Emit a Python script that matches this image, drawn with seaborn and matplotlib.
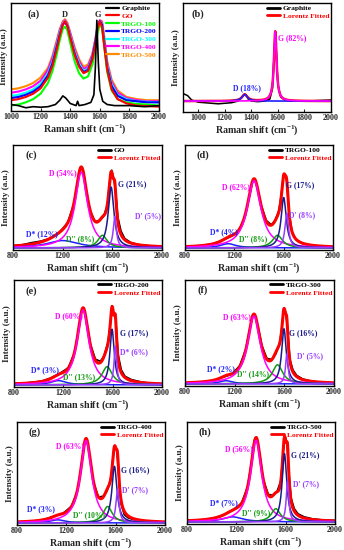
import numpy as np
import matplotlib.pyplot as plt
from matplotlib.lines import Line2D
import seaborn as sns

sns.set_style('ticks')
plt.rcParams['font.family'] = ['Liberation Serif', 'DejaVu Serif']
plt.rcParams['font.weight'] = 'bold'
plt.rcParams['axes.labelweight'] = 'bold'
plt.rcParams['mathtext.fontset'] = 'custom'
plt.rcParams['mathtext.rm'] = 'Liberation Serif:bold'
plt.rcParams['mathtext.default'] = 'rm'

# ---------------- panel (a): raw spectra ----------------
shift_a = [1000, 1050, 1100, 1150, 1200, 1250, 1280, 1310, 1330, 1350, 1365, 1380, 1400, 1430, 1460,
           1490, 1520, 1550, 1570, 1585, 1600, 1615, 1630, 1650, 1680, 1720, 1780, 1850, 1920, 2000]
go_a = [0.10, 0.11, 0.13, 0.16, 0.21, 0.31, 0.42, 0.58, 0.70, 0.80, 0.83, 0.79, 0.68, 0.52, 0.41,
        0.35, 0.37, 0.48, 0.62, 0.76, 0.83, 0.78, 0.60, 0.38, 0.20, 0.11, 0.07, 0.05, 0.045, 0.04]
trgo100_a = [0.05, 0.06, 0.08, 0.11, 0.16, 0.26, 0.37, 0.53, 0.66, 0.76, 0.78, 0.75, 0.63, 0.46, 0.35,
             0.30, 0.32, 0.43, 0.58, 0.72, 0.80, 0.77, 0.60, 0.36, 0.19, 0.11, 0.08, 0.065, 0.06, 0.05]
trgo200_a = [0.12, 0.13, 0.15, 0.18, 0.23, 0.33, 0.44, 0.60, 0.71, 0.80, 0.82, 0.79, 0.68, 0.53, 0.42,
             0.36, 0.38, 0.49, 0.64, 0.77, 0.83, 0.80, 0.63, 0.40, 0.23, 0.14, 0.10, 0.09, 0.08, 0.08]
trgo300_a = [0.14, 0.15, 0.17, 0.20, 0.25, 0.35, 0.46, 0.62, 0.73, 0.81, 0.83, 0.80, 0.70, 0.55, 0.44,
             0.37, 0.39, 0.50, 0.65, 0.78, 0.83, 0.81, 0.65, 0.42, 0.25, 0.15, 0.11, 0.09, 0.085, 0.08]
trgo400_a = [0.17, 0.18, 0.20, 0.23, 0.28, 0.38, 0.49, 0.64, 0.75, 0.82, 0.84, 0.81, 0.72, 0.57, 0.46,
             0.39, 0.41, 0.52, 0.66, 0.79, 0.84, 0.82, 0.67, 0.44, 0.27, 0.17, 0.12, 0.10, 0.09, 0.09]
trgo500_a = [0.20, 0.21, 0.23, 0.26, 0.31, 0.40, 0.51, 0.66, 0.76, 0.83, 0.85, 0.82, 0.73, 0.59, 0.48,
             0.41, 0.43, 0.53, 0.67, 0.79, 0.84, 0.83, 0.69, 0.46, 0.29, 0.19, 0.13, 0.11, 0.10, 0.10]
shift_graphite = [1000, 1050, 1100, 1150, 1200, 1250, 1300, 1330, 1350, 1370, 1400, 1440, 1450, 1460,
                  1500, 1540, 1560, 1570, 1580, 1590, 1600, 1620, 1650, 1700, 1800, 1900, 2000]
graphite_a = [0.06, 0.05, 0.03, 0.04, 0.035, 0.04, 0.06, 0.10, 0.14, 0.12, 0.07, 0.05, 0.09, 0.05,
              0.06, 0.08, 0.15, 0.40, 0.84, 0.45, 0.20, 0.09, 0.06, 0.05, 0.05, 0.04, 0.05]
names_a = ['Graphite', 'GO', 'TRGO-100', 'TRGO-200', 'TRGO-300', 'TRGO-400', 'TRGO-500']
colors_a = ['black', '#ff0000', '#00ff00', '#0000ff', '#00ffff', '#ff00ff', '#ff8c00']

# ---------------- panel (b): graphite fit ----------------
shift_b = [885, 920, 950, 1000, 1050, 1100, 1150, 1200, 1250, 1300, 1325, 1340, 1350, 1360, 1375, 1400,
           1450, 1500, 1540, 1560, 1570, 1580, 1590, 1600, 1620, 1650, 1700, 1800, 1900, 2000]
graphite_b = [0.17, 0.15, 0.11, 0.09, 0.085, 0.08, 0.075, 0.08, 0.085, 0.10, 0.13, 0.155, 0.165, 0.155,
              0.12, 0.10, 0.095, 0.10, 0.12, 0.22, 0.50, 0.74, 0.50, 0.25, 0.14, 0.11, 0.10, 0.10, 0.105, 0.11]
centres_b = [1350, 1580]
heights_b = [0.06, 0.64]
fwhm_b = [50, 24]
areas_b = [18, 82]

# ---------------- panels (c)-(h): raw spectra + Lorentz components ----------------
shift_raw = [800, 875, 950, 1025, 1100, 1175, 1240, 1290, 1320, 1345, 1365, 1390, 1420, 1460, 1500,
             1530, 1560, 1580, 1595, 1610, 1625, 1645, 1670, 1700, 1750, 1820, 1900, 2000]
go_raw = [0.04, 0.05, 0.07, 0.085, 0.11, 0.17, 0.26, 0.44, 0.65, 0.79, 0.76, 0.57, 0.38, 0.27, 0.28,
          0.32, 0.43, 0.67, 0.76, 0.69, 0.58, 0.31, 0.18, 0.11, 0.07, 0.05, 0.04, 0.035]
trgo100_raw = [0.03, 0.035, 0.045, 0.06, 0.09, 0.13, 0.19, 0.33, 0.50, 0.64, 0.67, 0.58, 0.42, 0.28, 0.24,
               0.28, 0.37, 0.52, 0.68, 0.72, 0.66, 0.34, 0.17, 0.10, 0.065, 0.045, 0.035, 0.03]
trgo200_raw = [0.035, 0.035, 0.045, 0.055, 0.085, 0.13, 0.18, 0.32, 0.51, 0.70, 0.74, 0.60, 0.40, 0.26, 0.24,
               0.29, 0.41, 0.58, 0.76, 0.68, 0.63, 0.30, 0.16, 0.10, 0.07, 0.05, 0.035, 0.03]
trgo300_raw = [0.03, 0.03, 0.04, 0.05, 0.08, 0.11, 0.19, 0.35, 0.53, 0.67, 0.67, 0.55, 0.38, 0.26, 0.25,
               0.30, 0.39, 0.55, 0.73, 0.69, 0.56, 0.25, 0.15, 0.10, 0.065, 0.045, 0.035, 0.03]
trgo400_raw = [0.03, 0.03, 0.04, 0.055, 0.085, 0.115, 0.18, 0.33, 0.56, 0.78, 0.83, 0.67, 0.42, 0.27, 0.28,
               0.33, 0.45, 0.67, 0.76, 0.72, 0.47, 0.20, 0.10, 0.07, 0.05, 0.04, 0.035, 0.03]
trgo500_raw = [0.04, 0.035, 0.045, 0.06, 0.09, 0.14, 0.20, 0.36, 0.58, 0.82, 0.85, 0.68, 0.43, 0.29, 0.28,
               0.32, 0.42, 0.72, 0.86, 0.80, 0.52, 0.25, 0.15, 0.10, 0.07, 0.05, 0.04, 0.035]

# component order: D*, D, D'', G, D'
centres_c = [1200, 1350, 1520, 1590, 1620]
heights_c = [0.07, 0.72, 0.12, 0.58, 0.30]
fwhm_c = [300, 120, 90, 55, 30]
areas_c = [12, 54, 8, 21, 5]

centres_d = [1150, 1360, 1550, 1600, 1625]
heights_d = [0.04, 0.64, 0.12, 0.48, 0.33]
fwhm_d = [150, 135, 100, 50, 35]
areas_d = [4, 62, 8, 17, 8]

centres_e = [1160, 1360, 1555, 1595, 1622]
heights_e = [0.04, 0.70, 0.17, 0.52, 0.36]
fwhm_e = [150, 115, 100, 42, 26]
areas_e = [3, 60, 13, 17, 6]

centres_f = [1130, 1355, 1545, 1597, 1620]
heights_f = [0.03, 0.64, 0.18, 0.52, 0.28]
fwhm_f = [130, 125, 100, 45, 25]
areas_f = [2, 63, 14, 16, 5]

centres_g = [1130, 1360, 1535, 1590, 1615]
heights_g = [0.03, 0.80, 0.16, 0.55, 0.33]
fwhm_g = [150, 110, 90, 50, 30]
areas_g = [3, 63, 10, 16, 7]

centres_h = [1170, 1360, 1520, 1590, 1615]
heights_h = [0.05, 0.80, 0.13, 0.67, 0.40]
fwhm_h = [200, 110, 90, 45, 25]
areas_h = [7, 56, 9, 21, 7]

peak_names = ['D*', 'D', "D''", 'G', "D'"]
peak_names_e = ['D*', 'D', "D''", 'G', 'D*']
peak_colors = ['#1f1fff', '#ff00ff', '#109a10', '#1a1a8c', '#9a3cff']


def lorentz(x, c, h, w):
    return h / (1 + ((x - c) / (w / 2)) ** 2)


W, H = 344, 550


def rect(l, r, t, b):
    return [l / W, 1 - b / H, (r - l) / W, (b - t) / H]


def style_axis(ax, xlim, xticks, letter, lx=0.12):
    ax.set_xlim(*xlim)
    ax.set_ylim(0, 1)
    ax.set_xticks(xticks)
    ax.set_yticks([])
    ax.tick_params(axis='x', direction='in', length=2.5, width=0.8, labelsize=5.8, pad=1.5)
    for s in ax.spines.values():
        s.set_linewidth(1.0)
        s.set_color('black')
    ax.set_xlabel('Raman shift (cm$^{-1}$)', fontsize=7.2, labelpad=0.5)
    ax.set_ylabel('Intensity (a.u.)', fontsize=6.6, labelpad=2)
    ax.text(lx, 0.9, letter, transform=ax.transAxes, fontsize=7.5, ha='center', va='center')


def add_legend(ax, labels, colors, lw=2.0, **kw):
    handles = [Line2D([0], [0], color=c, lw=lw) for c in colors]
    ax.legend(handles, labels, loc='upper right', frameon=False, fontsize=5.4,
              labelcolor=colors, handlelength=1.8, handletextpad=0.3, labelspacing=0.2,
              borderpad=0.2, borderaxespad=0.05, **kw)


fig = plt.figure(figsize=(3.44, 5.5), dpi=100)

# ---- (a)
ax = fig.add_axes(rect(11, 159, 3, 111))
spectra_a = [go_a, trgo100_a, trgo200_a, trgo300_a, trgo400_a, trgo500_a]
for ys, col in zip(spectra_a[::-1], colors_a[1:][::-1]):
    sns.lineplot(x=shift_a, y=ys, ax=ax, color=col, lw=1.5, legend=False)
sns.lineplot(x=shift_graphite, y=graphite_a, ax=ax, color='black', lw=1.2, legend=False)
style_axis(ax, (1000, 2000), range(1000, 2001, 200), '(a)', lx=0.15)
ax.text(1365, 0.89, 'D', fontsize=6, ha='center', va='center')
ax.text(1590, 0.89, 'G', fontsize=6, ha='center', va='center')
add_legend(ax, names_a, colors_a, lw=1.6)

# ---- (b)
ax = fig.add_axes(rect(183, 331, 3, 112))
xb = np.linspace(885, 2000, 1200)
comps_b = [0.1 + lorentz(xb, c, h, w) for c, h, w in zip(centres_b, heights_b, fwhm_b)]
fit_b = 0.1 + sum(lorentz(xb, c, h, w) for c, h, w in zip(centres_b, heights_b, fwhm_b))
sns.lineplot(x=shift_b, y=graphite_b, ax=ax, color='black', lw=1.1, legend=False)
sns.lineplot(x=xb, y=fit_b, ax=ax, color='#ff0000', lw=1.8, legend=False)
sns.lineplot(x=xb, y=comps_b[0], ax=ax, color='#1f1fff', lw=1.2, legend=False)
sns.lineplot(x=xb, y=comps_b[1], ax=ax, color='#ff00ff', lw=1.2, legend=False)
style_axis(ax, (885, 2000), range(1000, 2001, 200), '(b)', lx=0.1)
ax.text(1365, 0.22, 'D (%d%%)' % areas_b[0], color='#1f1fff', fontsize=5.5, ha='center', va='center')
ax.text(1706, 0.68, 'G (%d%%)' % areas_b[1], color='#ff00ff', fontsize=5.5, ha='center', va='center')
add_legend(ax, ['Graphite', 'Lorentz Fitted'], ['black', '#ff0000'])

# ---- (c)-(h)
panels = [
    ('(c)', 'GO', go_raw, centres_c, heights_c, fwhm_c, areas_c, peak_names, (13, 162, 145, 250),
     [(1030, 0.15), (1200, 0.73), (1340, 0.10), (1760, 0.63), (1890, 0.32)]),
    ('(d)', 'TRGO-100', trgo100_raw, centres_d, heights_d, fwhm_d, areas_d, peak_names, (185, 333, 145, 250),
     [(1115, 0.17), (1215, 0.60), (1350, 0.10), (1733, 0.62), (1753, 0.33)]),
    ('(e)', 'TRGO-200', trgo200_raw, centres_e, heights_e, fwhm_e, areas_e, peak_names_e, (14, 162, 280, 387),
     [(1050, 0.16), (1245, 0.66), (1330, 0.09), (1770, 0.50), (1770, 0.33)]),
    ('(f)', 'TRGO-300', trgo300_raw, centres_f, heights_f, fwhm_f, areas_f, peak_names, (185, 334, 280, 386),
     [(1090, 0.16), (1218, 0.65), (1345, 0.11), (1750, 0.50), (1810, 0.28)]),
    ('(g)', 'TRGO-400', trgo400_raw, centres_g, heights_g, fwhm_g, areas_g, peak_names, (17, 165, 422, 525),
     [(993, 0.15), (1227, 0.77), (1387, 0.10), (1760, 0.53), (1753, 0.34)]),
    ('(h)', 'TRGO-500', trgo500_raw, centres_h, heights_h, fwhm_h, areas_h, peak_names, (187, 335, 422, 524),
     [(1100, 0.20), (1220, 0.73), (1362, 0.11), (1755, 0.67), (1762, 0.39)]),
]

xf = np.linspace(800, 2000, 1500)
for letter, name, raw, cen, hts, fw, areas, pnames, box, txt_pos in panels:
    ax = fig.add_axes(rect(*box))
    comps = [lorentz(xf, c, h, w) for c, h, w in zip(cen, hts, fw)]
    fit = 0.02 + sum(comps)
    sns.lineplot(x=shift_raw, y=raw, ax=ax, color='black', lw=1.2, legend=False)
    sns.lineplot(x=xf, y=fit, ax=ax, color='#ff0000', lw=2.2, legend=False)
    for comp, col in zip(comps, peak_colors):
        sns.lineplot(x=xf, y=0.02 + comp, ax=ax, color=col, lw=1.1, legend=False)
    style_axis(ax, (800, 2000), [800, 1200, 1600, 2000], letter)
    for pn, a, col, (tx, ty) in zip(pnames, areas, peak_colors, txt_pos):
        ax.text(tx, ty, '%s (%d%%)' % (pn, a), color=col, fontsize=5.5, ha='center', va='center')
    add_legend(ax, [name, 'Lorentz Fitted'], ['black', '#ff0000'])

fig.savefig('out.png', dpi=100)
plt.close(fig)
